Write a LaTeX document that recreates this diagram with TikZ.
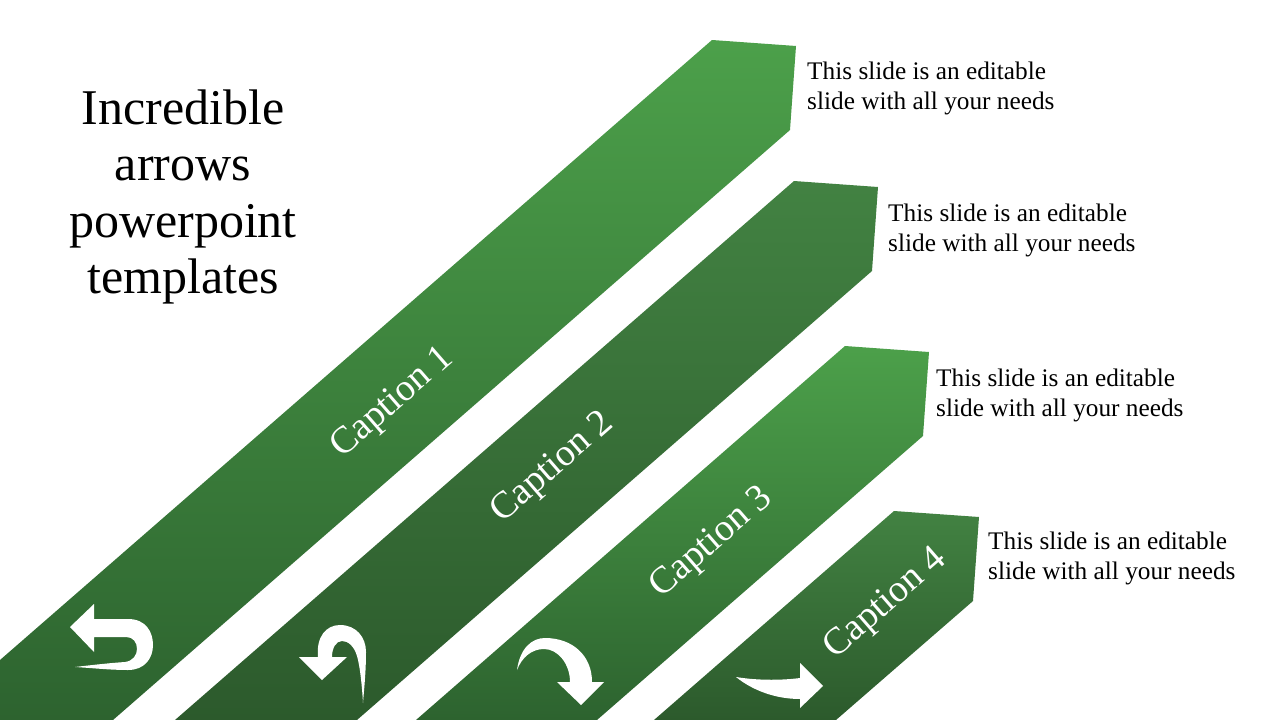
\documentclass[tikz,border=0pt]{standalone}
\usepackage{fontspec}
\setmainfont{Liberation Serif}
\begin{document}
\begin{tikzpicture}[x=1pt,y=-1pt,
  bandlight/.style={top color=gA,bottom color=gB,draw=none},
  banddark/.style={top color=gC,bottom color=gD,draw=none},
  icon/.style={fill=white,draw=none},
  caption/.style={text=white,font=\fontsize{38}{42}\selectfont,rotate=41.05,inner sep=0pt,anchor=center},
  desc/.style={text=black,font=\fontsize{25.3}{30}\selectfont,inner sep=0pt,anchor=base west},
  ttl/.style={text=black,font=\fontsize{50}{56}\selectfont,inner sep=0pt,anchor=base}]
\definecolor{gA}{HTML}{4CA04A}
\definecolor{gB}{HTML}{2D632F}
\definecolor{gC}{HTML}{428242}
\definecolor{gD}{HTML}{2C5A2C}
\useasboundingbox (0,0) rectangle (1280,720);
\fill[white] (0,0) rectangle (1280,720);
% bands
\path[bandlight] (0,660) -- (712,40) -- (796,46) -- (790,130) -- (113,720) -- (0,720) -- cycle;
\path[banddark] (175,720) -- (794,181) -- (878,187) -- (872,271) -- (357,720) -- cycle;
\path[bandlight] (416,720) -- (845,346) -- (929,352) -- (923,436) -- (597,720) -- cycle;
\path[banddark] (654,720) -- (894,511) -- (979,517) -- (973,601) -- (836,720) -- cycle;
% icons
\path[icon] (70,627) -- (94,604) -- (94,619) -- (128,619)
  .. controls (146,619) and (153,632) .. (153,645)
  .. controls (153,658) and (145,670) .. (128,670)
  .. controls (110,670) and (92,668) .. (75,667)
  .. controls (92,665) and (110,663) .. (125,662)
  .. controls (133,661) and (137,655) .. (137,649)
  .. controls (137,642) and (133,637) .. (126,637)
  -- (94,637) -- (94,652) -- cycle;
\path[icon] (299,657) -- (318,657)
  .. controls (316,637) and (326,625) .. (340,625)
  .. controls (356,625) and (366,637) .. (366,652)
  .. controls (366,672) and (364,690) .. (363,703)
  .. controls (362,686) and (360,666) .. (357,656)
  .. controls (354,646) and (348,641) .. (342,641)
  .. controls (336,641) and (332,648) .. (332,657)
  -- (347,657) -- (322,680) -- cycle;
\path[icon] (517,670)
  .. controls (520,648) and (532,638) .. (545,638)
  .. controls (572,638) and (592,655) .. (592,682)
  -- (604,682) -- (581,705) -- (557,682) -- (570,682)
  .. controls (570,664) and (558,649) .. (544,649)
  .. controls (532,649) and (522,657) .. (517,670) -- cycle;
\path[icon] (736,677)
  .. controls (760,681) and (785,680) .. (800,678)
  -- (800,663) -- (823,686) -- (800,708) -- (800,699)
  .. controls (775,699) and (752,690) .. (736,677) -- cycle;
% captions
\node[caption] (cap1) at (393,403) {Caption 1};
\node[caption] (cap2) at (553,468) {Caption 2};
\node[caption] (cap3) at (712,543) {Caption 3};
\node[caption] (cap4) at (886,604) {Caption 4};
% title
\node[ttl] (t1) at (183,124) {Incredible};
\node[ttl] (t2) at (183,180) {arrows};
\node[ttl] (t3) at (183,237) {powerpoint};
\node[ttl] (t4) at (183,293) {templates};
% descriptions
\node[desc] (d1a) at (807,79) {This slide is an editable};
\node[desc] (d1b) at (807,109) {slide with all your needs};
\node[desc] (d2a) at (888,221) {This slide is an editable};
\node[desc] (d2b) at (888,251) {slide with all your needs};
\node[desc] (d3a) at (936,386) {This slide is an editable};
\node[desc] (d3b) at (936,416) {slide with all your needs};
\node[desc] (d4a) at (988,549) {This slide is an editable};
\node[desc] (d4b) at (988,579) {slide with all your needs};
\end{tikzpicture}
\end{document}
